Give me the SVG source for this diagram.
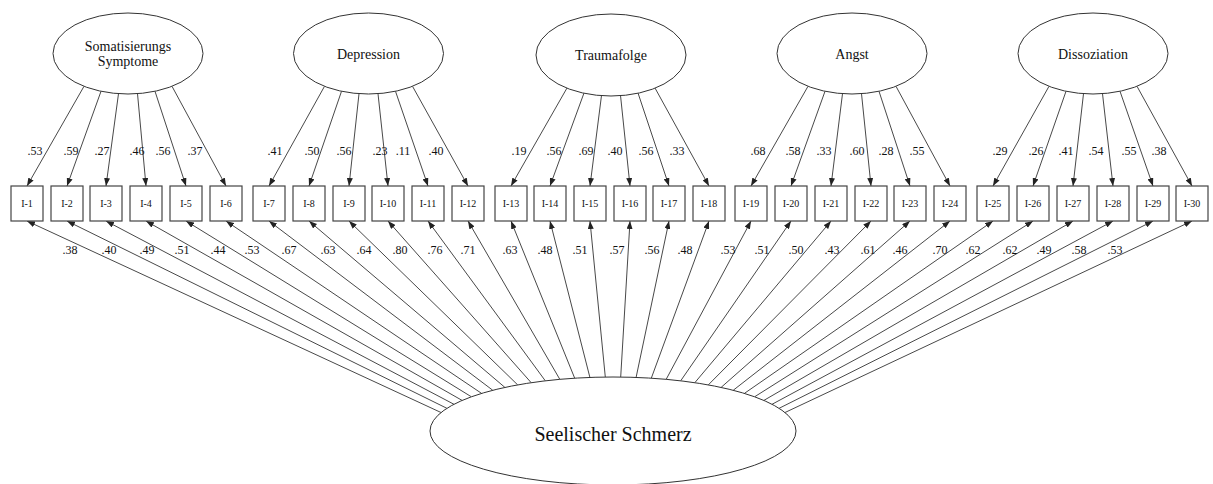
<svg xmlns="http://www.w3.org/2000/svg" width="1213" height="484" viewBox="0 0 1213 484" font-family="'Liberation Serif', 'Times New Roman', serif">
<defs>
<marker id="ah" markerUnits="userSpaceOnUse" markerWidth="8" markerHeight="6" refX="8" refY="3" orient="auto">
<path d="M0,0 L8,3 L0,6 z" fill="#222"/>
</marker>
<style>
text{font-family:'Liberation Serif','Times New Roman',serif}
.lat ellipse{fill:#fff;stroke:#333;stroke-width:1}
.lat text{font-size:14px;fill:#111;text-anchor:middle}
.item rect{fill:#fff;stroke:#444;stroke-width:1.2}
.item text{font-size:10px;fill:#111;text-anchor:middle}
#connectors line{stroke:#333;stroke-width:0.9;marker-end:url(#ah)}
.lbl{font-size:12px;fill:#111;text-anchor:middle}
</style>
</defs>
<rect width="1213" height="484" fill="#fff"/>

<g id="connectors">
<line x1="84" y1="86.3" x2="27" y2="186"/>
<line x1="101" y1="91.3" x2="67" y2="186"/>
<line x1="118.5" y1="93.7" x2="106" y2="186"/>
<line x1="137.5" y1="93.7" x2="146" y2="186"/>
<line x1="155" y1="91.3" x2="186" y2="186"/>
<line x1="172" y1="86.3" x2="226" y2="186"/>
<line x1="324.5" y1="86.3" x2="269" y2="186"/>
<line x1="341.5" y1="91.3" x2="309" y2="186"/>
<line x1="359" y1="93.7" x2="349" y2="186"/>
<line x1="378" y1="93.7" x2="388" y2="186"/>
<line x1="395.5" y1="91.3" x2="428" y2="186"/>
<line x1="412.5" y1="86.3" x2="468" y2="186"/>
<line x1="567" y1="88" x2="511" y2="186"/>
<line x1="584" y1="93" x2="550" y2="186"/>
<line x1="601.5" y1="95.4" x2="590" y2="186"/>
<line x1="620.5" y1="95.4" x2="630" y2="186"/>
<line x1="638" y1="93" x2="669" y2="186"/>
<line x1="655" y1="88" x2="709" y2="186"/>
<line x1="808" y1="86.3" x2="751" y2="186"/>
<line x1="825" y1="91.3" x2="791" y2="186"/>
<line x1="842.5" y1="93.7" x2="831" y2="186"/>
<line x1="861.5" y1="93.7" x2="871" y2="186"/>
<line x1="879" y1="91.3" x2="910" y2="186"/>
<line x1="896" y1="86.3" x2="950" y2="186"/>
<line x1="1049" y1="86.3" x2="993" y2="186"/>
<line x1="1066" y1="91.3" x2="1033" y2="186"/>
<line x1="1083.5" y1="93.7" x2="1073" y2="186"/>
<line x1="1102.5" y1="93.7" x2="1113" y2="186"/>
<line x1="1120" y1="91.3" x2="1153" y2="186"/>
<line x1="1137" y1="86.3" x2="1192" y2="186"/>
<line x1="441.0" y1="412.5" x2="27" y2="221"/>
<line x1="446.9" y1="408.3" x2="67" y2="221"/>
<line x1="454.0" y1="404.3" x2="106" y2="221"/>
<line x1="462.1" y1="400.4" x2="146" y2="221"/>
<line x1="471.4" y1="396.8" x2="186" y2="221"/>
<line x1="481.6" y1="393.4" x2="226" y2="221"/>
<line x1="492.8" y1="390.3" x2="269" y2="221"/>
<line x1="504.9" y1="387.4" x2="309" y2="221"/>
<line x1="517.7" y1="384.9" x2="349" y2="221"/>
<line x1="531.2" y1="382.7" x2="388" y2="221"/>
<line x1="545.3" y1="380.8" x2="428" y2="221"/>
<line x1="559.8" y1="379.3" x2="468" y2="221"/>
<line x1="574.7" y1="378.2" x2="511" y2="221"/>
<line x1="589.9" y1="377.4" x2="550" y2="221"/>
<line x1="605.3" y1="377.05" x2="590" y2="221"/>
<line x1="620.7" y1="377.05" x2="630" y2="221"/>
<line x1="636.1" y1="377.4" x2="669" y2="221"/>
<line x1="651.3" y1="378.2" x2="709" y2="221"/>
<line x1="666.2" y1="379.3" x2="751" y2="221"/>
<line x1="680.7" y1="380.8" x2="791" y2="221"/>
<line x1="694.8" y1="382.7" x2="831" y2="221"/>
<line x1="708.3" y1="384.9" x2="871" y2="221"/>
<line x1="721.1" y1="387.4" x2="910" y2="221"/>
<line x1="733.2" y1="390.3" x2="950" y2="221"/>
<line x1="744.4" y1="393.4" x2="993" y2="221"/>
<line x1="754.6" y1="396.8" x2="1033" y2="221"/>
<line x1="763.9" y1="400.4" x2="1073" y2="221"/>
<line x1="772.0" y1="404.3" x2="1113" y2="221"/>
<line x1="779.1" y1="408.3" x2="1153" y2="221"/>
<line x1="785.0" y1="412.5" x2="1192" y2="221"/>
</g>

<g id="loadings-top">
<text class="lbl" x="35" y="155">.53</text>
<text class="lbl" x="71" y="155">.59</text>
<text class="lbl" x="102" y="155">.27</text>
<text class="lbl" x="137" y="155">.46</text>
<text class="lbl" x="163" y="155">.56</text>
<text class="lbl" x="195" y="155">.37</text>
<text class="lbl" x="275" y="155">.41</text>
<text class="lbl" x="312" y="155">.50</text>
<text class="lbl" x="344" y="155">.56</text>
<text class="lbl" x="380" y="155">.23</text>
<text class="lbl" x="403" y="155">.11</text>
<text class="lbl" x="436" y="155">.40</text>
<text class="lbl" x="519" y="155">.19</text>
<text class="lbl" x="554" y="155">.56</text>
<text class="lbl" x="586" y="155">.69</text>
<text class="lbl" x="615" y="155">.40</text>
<text class="lbl" x="646" y="155">.56</text>
<text class="lbl" x="677" y="155">.33</text>
<text class="lbl" x="758" y="155">.68</text>
<text class="lbl" x="793" y="155">.58</text>
<text class="lbl" x="824" y="155">.33</text>
<text class="lbl" x="857" y="155">.60</text>
<text class="lbl" x="886" y="155">.28</text>
<text class="lbl" x="917" y="155">.55</text>
<text class="lbl" x="1000" y="155">.29</text>
<text class="lbl" x="1036" y="155">.26</text>
<text class="lbl" x="1066" y="155">.41</text>
<text class="lbl" x="1096" y="155">.54</text>
<text class="lbl" x="1129" y="155">.55</text>
<text class="lbl" x="1159" y="155">.38</text>
</g>

<g id="loadings-bottom">
<text class="lbl" x="70" y="254">.38</text>
<text class="lbl" x="109" y="254">.40</text>
<text class="lbl" x="147" y="254">.49</text>
<text class="lbl" x="182" y="254">.51</text>
<text class="lbl" x="218" y="254">.44</text>
<text class="lbl" x="252" y="254">.53</text>
<text class="lbl" x="289" y="254">.67</text>
<text class="lbl" x="328" y="254">.63</text>
<text class="lbl" x="364" y="254">.64</text>
<text class="lbl" x="400" y="254">.80</text>
<text class="lbl" x="435" y="254">.76</text>
<text class="lbl" x="468" y="254">.71</text>
<text class="lbl" x="510" y="254">.63</text>
<text class="lbl" x="545" y="254">.48</text>
<text class="lbl" x="580" y="254">.51</text>
<text class="lbl" x="617" y="254">.57</text>
<text class="lbl" x="652" y="254">.56</text>
<text class="lbl" x="685" y="254">.48</text>
<text class="lbl" x="728" y="254">.53</text>
<text class="lbl" x="762" y="254">.51</text>
<text class="lbl" x="796" y="254">.50</text>
<text class="lbl" x="832" y="254">.43</text>
<text class="lbl" x="868" y="254">.61</text>
<text class="lbl" x="900" y="254">.46</text>
<text class="lbl" x="940" y="254">.70</text>
<text class="lbl" x="973" y="254">.62</text>
<text class="lbl" x="1010" y="254">.62</text>
<text class="lbl" x="1044" y="254">.49</text>
<text class="lbl" x="1079" y="254">.58</text>
<text class="lbl" x="1115" y="254">.53</text>
</g>

<g id="somatisierung" class="lat"><ellipse cx="128" cy="53.5" rx="75" ry="40.5"/><text x="128" y="51">Somatisierungs</text><text x="128" y="66">Symptome</text></g>
<g id="depression" class="lat"><ellipse cx="368.5" cy="53.5" rx="75" ry="40.5"/><text x="368.5" y="59">Depression</text></g>
<g id="traumafolge" class="lat"><ellipse cx="611" cy="55" rx="75" ry="41"/><text x="611" y="60">Traumafolge</text></g>
<g id="angst" class="lat"><ellipse cx="852" cy="53.5" rx="75" ry="40.5"/><text x="852" y="59">Angst</text></g>
<g id="dissoziation" class="lat"><ellipse cx="1093" cy="53.5" rx="75" ry="40.5"/><text x="1093" y="59">Dissoziation</text></g>
<g id="seelischer-schmerz" class="lat"><ellipse cx="613" cy="431" rx="183" ry="54"/><text x="613" y="441" style="font-size:20px">Seelischer Schmerz</text></g>

<g id="I-1" class="item"><rect x="11" y="186" width="32" height="35"/><text x="27" y="207">I-1</text></g>
<g id="I-2" class="item"><rect x="51" y="186" width="32" height="35"/><text x="67" y="207">I-2</text></g>
<g id="I-3" class="item"><rect x="90" y="186" width="32" height="35"/><text x="106" y="207">I-3</text></g>
<g id="I-4" class="item"><rect x="130" y="186" width="32" height="35"/><text x="146" y="207">I-4</text></g>
<g id="I-5" class="item"><rect x="170" y="186" width="32" height="35"/><text x="186" y="207">I-5</text></g>
<g id="I-6" class="item"><rect x="210" y="186" width="32" height="35"/><text x="226" y="207">I-6</text></g>
<g id="I-7" class="item"><rect x="253" y="186" width="32" height="35"/><text x="269" y="207">I-7</text></g>
<g id="I-8" class="item"><rect x="293" y="186" width="32" height="35"/><text x="309" y="207">I-8</text></g>
<g id="I-9" class="item"><rect x="333" y="186" width="32" height="35"/><text x="349" y="207">I-9</text></g>
<g id="I-10" class="item"><rect x="372" y="186" width="32" height="35"/><text x="388" y="207">I-10</text></g>
<g id="I-11" class="item"><rect x="412" y="186" width="32" height="35"/><text x="428" y="207">I-11</text></g>
<g id="I-12" class="item"><rect x="452" y="186" width="32" height="35"/><text x="468" y="207">I-12</text></g>
<g id="I-13" class="item"><rect x="495" y="186" width="32" height="35"/><text x="511" y="207">I-13</text></g>
<g id="I-14" class="item"><rect x="534" y="186" width="32" height="35"/><text x="550" y="207">I-14</text></g>
<g id="I-15" class="item"><rect x="574" y="186" width="32" height="35"/><text x="590" y="207">I-15</text></g>
<g id="I-16" class="item"><rect x="614" y="186" width="32" height="35"/><text x="630" y="207">I-16</text></g>
<g id="I-17" class="item"><rect x="653" y="186" width="32" height="35"/><text x="669" y="207">I-17</text></g>
<g id="I-18" class="item"><rect x="693" y="186" width="32" height="35"/><text x="709" y="207">I-18</text></g>
<g id="I-19" class="item"><rect x="735" y="186" width="32" height="35"/><text x="751" y="207">I-19</text></g>
<g id="I-20" class="item"><rect x="775" y="186" width="32" height="35"/><text x="791" y="207">I-20</text></g>
<g id="I-21" class="item"><rect x="815" y="186" width="32" height="35"/><text x="831" y="207">I-21</text></g>
<g id="I-22" class="item"><rect x="855" y="186" width="32" height="35"/><text x="871" y="207">I-22</text></g>
<g id="I-23" class="item"><rect x="894" y="186" width="32" height="35"/><text x="910" y="207">I-23</text></g>
<g id="I-24" class="item"><rect x="934" y="186" width="32" height="35"/><text x="950" y="207">I-24</text></g>
<g id="I-25" class="item"><rect x="977" y="186" width="32" height="35"/><text x="993" y="207">I-25</text></g>
<g id="I-26" class="item"><rect x="1017" y="186" width="32" height="35"/><text x="1033" y="207">I-26</text></g>
<g id="I-27" class="item"><rect x="1057" y="186" width="32" height="35"/><text x="1073" y="207">I-27</text></g>
<g id="I-28" class="item"><rect x="1097" y="186" width="32" height="35"/><text x="1113" y="207">I-28</text></g>
<g id="I-29" class="item"><rect x="1137" y="186" width="32" height="35"/><text x="1153" y="207">I-29</text></g>
<g id="I-30" class="item"><rect x="1176" y="186" width="32" height="35"/><text x="1192" y="207">I-30</text></g>
</svg>
